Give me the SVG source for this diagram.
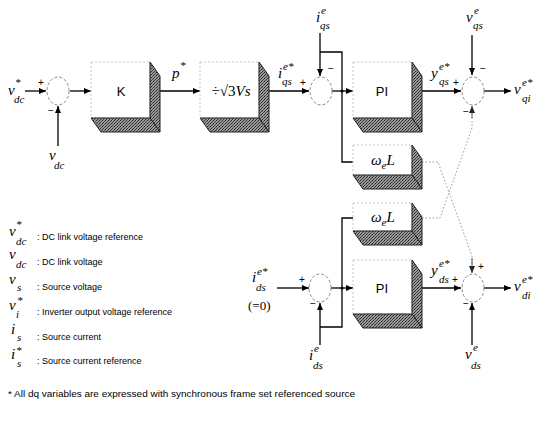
<svg xmlns="http://www.w3.org/2000/svg" width="539" height="421" viewBox="0 0 539 421">
<style>
.m{font-family:"Liberation Serif",serif;font-style:italic;font-size:15px;fill:#000}
.s{font-family:"Liberation Serif",serif;font-style:italic;font-size:11px;fill:#000}
.l{font-family:"Liberation Sans",Arial,sans-serif;font-size:9px;fill:#000}
.b{font-family:"Liberation Sans",Arial,sans-serif;font-size:13px;fill:#000;text-anchor:middle}
.pm{font-family:"Liberation Sans",Arial,sans-serif;font-size:10px;fill:#000;text-anchor:middle}
.front{fill:#fff;stroke:#c8c8c8;stroke-width:1;stroke-dasharray:2,2}
.shade{fill:url(#dots);stroke:#222;stroke-width:1;stroke-linejoin:round}
.sum{fill:#fff;stroke:#888;stroke-width:1;stroke-dasharray:3,2}
.w{fill:none;stroke:#000;stroke-width:1.3}
.d{fill:none;stroke:#999;stroke-width:1;stroke-dasharray:1.5,2}
</style>
<defs>
<pattern id="dots" width="3" height="3" patternUnits="userSpaceOnUse">
<rect width="3" height="3" fill="#9a9a9a"/>
<rect x="0" y="0" width="1" height="1" fill="#222"/>
<rect x="2" y="1" width="1" height="1" fill="#444"/>
<rect x="1" y="2" width="1" height="1" fill="#333"/>
</pattern>
<marker id="a" markerWidth="7" markerHeight="6" refX="7" refY="3" orient="auto" markerUnits="userSpaceOnUse">
<path d="M0,0 L7,3 L0,6 z" fill="#000"/>
</marker>
<marker id="ag" markerWidth="7" markerHeight="6" refX="7" refY="3" orient="auto" markerUnits="userSpaceOnUse">
<path d="M0,0 L7,3 L0,6 z" fill="#222"/>
</marker>
</defs>
<rect width="539" height="421" fill="#fff"/>

<g id="connectors">
<path class="w" d="M25,91 H46" marker-end="url(#a)"/>
<path class="w" d="M58,146 V106" marker-end="url(#a)"/>
<path class="w" d="M70,91 H91" marker-end="url(#a)"/>
<path class="w" d="M150,91 H200" marker-end="url(#a)"/>
<path class="w" d="M259,91 H309" marker-end="url(#a)"/>
<path class="w" d="M320,33 V76" marker-end="url(#a)"/>
<path class="w" d="M320,52 H342 V162 H353"/>
<path class="w" d="M332,91 H353" marker-end="url(#a)"/>
<circle cx="342" cy="91" r="1.6" fill="#000"/>
<path class="w" d="M412,91 H461" marker-end="url(#a)"/>
<path class="w" d="M472,35 V75" marker-end="url(#a)"/>
<path class="w" d="M484,91 H511" marker-end="url(#a)"/>
<path class="w" d="M277,288 H309" marker-end="url(#a)"/>
<path class="w" d="M320,345 V303" marker-end="url(#a)"/>
<path class="w" d="M320,327 H342 V218 H353"/>
<path class="w" d="M331,288 H353" marker-end="url(#a)"/>
<circle cx="342" cy="288" r="1.6" fill="#000"/>
<path class="w" d="M412,288 H461" marker-end="url(#a)"/>
<path class="w" d="M472,345 V303" marker-end="url(#a)"/>
<path class="w" d="M484,288 H511" marker-end="url(#a)"/>
<path class="d" d="M422,162 H438 L472,256 V266"/>
<path d="M472,258 V273" stroke="#555" stroke-width="1" marker-end="url(#ag)"/>
<path class="d" d="M422,218 H440 L472,128 V116"/>
<path d="M472,118 V106" stroke="#555" stroke-width="1" marker-end="url(#ag)"/>
</g>

<g id="sum1"><ellipse class="sum" cx="58" cy="91" rx="11" ry="14"/><text class="pm" x="41" y="86">+</text><text class="pm" x="51" y="114">−</text></g>
<g id="sum2"><ellipse class="sum" cx="321" cy="91" rx="11" ry="14"/><text class="pm" x="303" y="86">+</text><text class="pm" x="331" y="72">−</text></g>
<g id="sum3"><ellipse class="sum" cx="473" cy="91" rx="11" ry="14"/><text class="pm" x="456" y="86">+</text><text class="pm" x="483" y="72">−</text><text class="pm" x="466" y="115">−</text></g>
<g id="sum4"><ellipse class="sum" cx="320" cy="288" rx="11" ry="14"/><text class="pm" x="302" y="283">+</text><text class="pm" x="313" y="307">−</text></g>
<g id="sum5"><ellipse class="sum" cx="473" cy="288" rx="11" ry="14"/><text class="pm" x="455" y="283">+</text><text class="pm" x="481" y="270">+</text><text class="pm" x="466" y="307">−</text></g>

<g id="boxK">
<rect class="front" x="91" y="62" width="59" height="56"/>
<polygon class="shade" points="150,62 160,76 160,132 150,118"/>
<polygon class="shade" points="91,118 150,118 160,132 101,132"/>
<text class="b" x="121" y="96">K</text>
</g>
<g id="boxS">
<rect class="front" x="200" y="62" width="59" height="56"/>
<polygon class="shade" points="259,62 269,76 269,132 259,118"/>
<polygon class="shade" points="200,118 259,118 269,132 210,132"/>
<text x="231" y="96" text-anchor="middle" style="font-family:'Liberation Serif',serif;font-size:15px">÷√3<tspan font-style="italic">Vs</tspan></text>
</g>
<g id="boxPI1">
<rect class="front" x="353" y="62" width="59" height="56"/>
<polygon class="shade" points="412,62 422,76 422,132 412,118"/>
<polygon class="shade" points="353,118 412,118 422,132 363,132"/>
<text class="b" x="382" y="96">PI</text>
</g>
<g id="boxWL1">
<rect class="front" x="353" y="145" width="59" height="30"/>
<polygon class="shade" points="412,145 422,159 422,189 412,175"/>
<polygon class="shade" points="353,175 412,175 422,189 363,189"/>
<text class="m" x="371" y="165">ω<tspan class="s" dy="4">e</tspan><tspan dy="-4">L</tspan></text>
</g>
<g id="boxWL2">
<rect class="front" x="353" y="203" width="59" height="28"/>
<polygon class="shade" points="412,203 422,217 422,245 412,231"/>
<polygon class="shade" points="353,231 412,231 422,245 363,245"/>
<text class="m" x="371" y="222">ω<tspan class="s" dy="4">e</tspan><tspan dy="-4">L</tspan></text>
</g>
<g id="boxPI2">
<rect class="front" x="353" y="260" width="59" height="54"/>
<polygon class="shade" points="412,260 422,274 422,328 412,314"/>
<polygon class="shade" points="353,314 412,314 422,328 363,328"/>
<text class="b" x="382" y="293">PI</text>
</g>

<g id="labels">
<text class="m" x="8" y="95">v</text><text class="s" x="15" y="86">*</text><text class="s" x="14" y="103">dc</text>
<text class="m" x="49" y="160">v</text><text class="s" x="54" y="169">dc</text>
<text class="m" x="172" y="78">p</text><text class="s" x="180" y="69">*</text>
<text class="m" x="278" y="78">i</text><text class="s" x="283" y="70">e*</text><text class="s" x="282" y="85">qs</text>
<text class="m" x="316" y="22">i</text><text class="s" x="321" y="14">e</text><text class="s" x="320" y="29">qs</text>
<text class="m" x="431" y="78">y</text><text class="s" x="439" y="70">e*</text><text class="s" x="439" y="85">qs</text>
<text class="m" x="466" y="22">v</text><text class="s" x="474" y="14">e</text><text class="s" x="473" y="29">qs</text>
<text class="m" x="514" y="94">v</text><text class="s" x="522" y="86">e*</text><text class="s" x="522" y="102">qi</text>
<text class="m" x="252" y="282">i</text><text class="s" x="257" y="275">e*</text><text class="s" x="256" y="291">ds</text>
<text x="248" y="310" style="font-family:'Liberation Serif',serif;font-size:13px">(=0)</text>
<text class="m" x="309" y="360">i</text><text class="s" x="314" y="352">e</text><text class="s" x="313" y="369">ds</text>
<text class="m" x="431" y="275">y</text><text class="s" x="439" y="267">e*</text><text class="s" x="439" y="283">ds</text>
<text class="m" x="465" y="359">v</text><text class="s" x="473" y="351">e</text><text class="s" x="471" y="369">ds</text>
<text class="m" x="514" y="291">v</text><text class="s" x="522" y="283">e*</text><text class="s" x="522" y="299">di</text>
</g>

<g id="legend">
<text class="m" x="9" y="236">v</text><text class="s" x="16" y="228">*</text><text class="s" x="16" y="245">dc</text>
<text class="l" x="37" y="240">: DC link voltage reference</text>
<text class="m" x="9" y="259">v</text><text class="s" x="16" y="268">dc</text>
<text class="l" x="37" y="265">: DC link voltage</text>
<text class="m" x="9" y="284">v</text><text class="s" x="17" y="291">s</text>
<text class="l" x="37" y="290">: Source voltage</text>
<text class="m" x="9" y="310">v</text><text class="s" x="17" y="304">*</text><text class="s" x="16" y="318">i</text>
<text class="l" x="37" y="315">: Inverter output voltage reference</text>
<text class="m" x="11" y="334">i</text><text class="s" x="17" y="341">s</text>
<text class="l" x="37" y="340">: Source current</text>
<text class="m" x="11" y="359">i</text><text class="s" x="16" y="354">*</text><text class="s" x="17" y="367">s</text>
<text class="l" x="37" y="364">: Source current reference</text>
<text class="l" x="8" y="397" textLength="347" lengthAdjust="spacingAndGlyphs">* All dq variables are expressed with synchronous frame set referenced source</text>
</g>
</svg>
